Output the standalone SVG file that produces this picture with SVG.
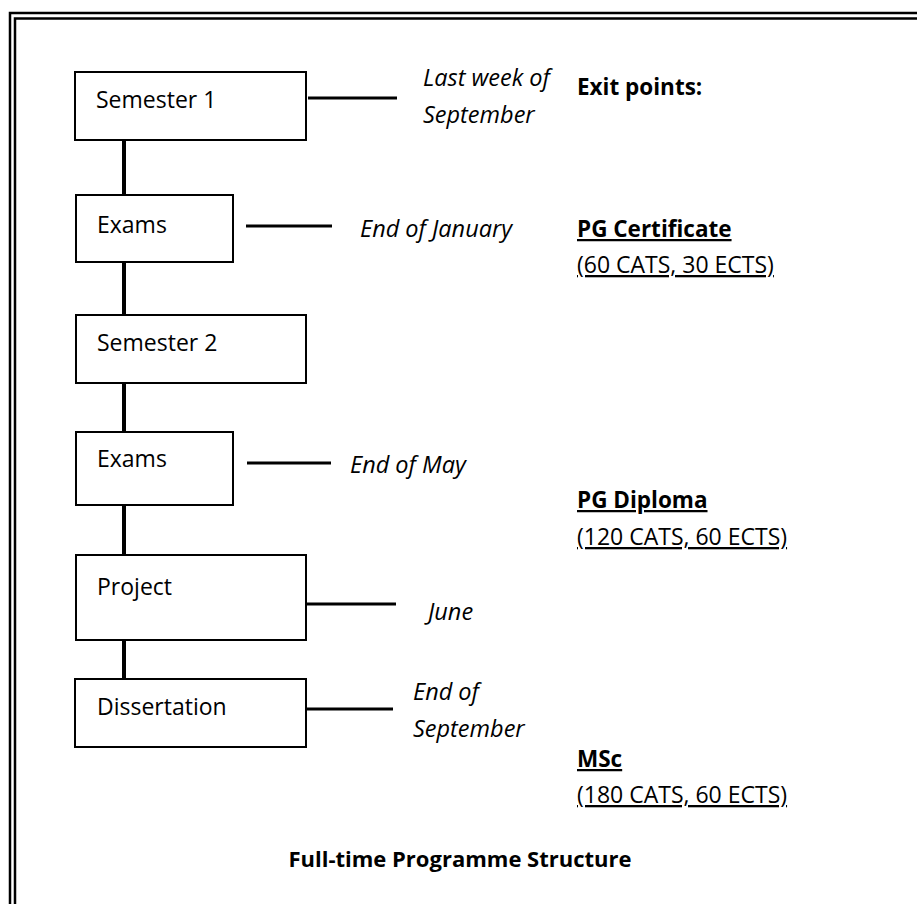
<svg xmlns="http://www.w3.org/2000/svg" width="917" height="904" viewBox="0 0 917 904">
<style>
.box{fill:#fff;stroke:#000;stroke-width:2}
.lbl{font-family:"Open Sans","Liberation Sans",sans-serif;font-size:23px;fill:#000}
.it{font-family:"Open Sans","Liberation Sans",sans-serif;font-size:23.5px;font-style:italic;fill:#000}
.bd{font-family:"Open Sans","Liberation Sans",sans-serif;font-size:22.5px;font-weight:bold;fill:#000}
.ttl{font-family:"Open Sans","Liberation Sans",sans-serif;font-size:22px;font-weight:bold;fill:#000}
.ul{text-decoration:underline}
.vc{stroke:#000;stroke-width:4;fill:none}
.hc{stroke:#000;stroke-width:3;fill:none}
.frame{stroke:#000;fill:none}
</style>
<rect x="0" y="0" width="917" height="904" fill="#fff"/>
<g id="frame">
<path class="frame" d="M10,904 V13 H917" stroke-width="2.5"/>
<path class="frame" d="M15,904 V18.5 H917" stroke-width="2.5"/>
</g>
<g id="connectors">
<line class="vc" x1="124" y1="140" x2="124" y2="195"/>
<line class="vc" x1="124" y1="262" x2="124" y2="315"/>
<line class="vc" x1="124" y1="383" x2="124" y2="432"/>
<line class="vc" x1="124" y1="505" x2="124" y2="555"/>
<line class="vc" x1="124" y1="640" x2="124" y2="679"/>
<line class="hc" x1="308" y1="98" x2="397" y2="98"/>
<line class="hc" x1="246" y1="226" x2="332" y2="226"/>
<line class="hc" x1="247" y1="463" x2="331" y2="463"/>
<line class="hc" x1="307" y1="604" x2="396" y2="604"/>
<line class="hc" x1="306" y1="709" x2="393" y2="709"/>
</g>
<g id="semester1">
<rect class="box" x="75" y="72" width="231" height="68"/>
<text class="lbl" x="96" y="108">Semester 1</text>
</g>
<g id="exams1">
<rect class="box" x="76" y="195" width="157" height="67"/>
<text class="lbl" x="97" y="233">Exams</text>
</g>
<g id="semester2">
<rect class="box" x="76" y="315" width="230" height="68"/>
<text class="lbl" x="97" y="351">Semester 2</text>
</g>
<g id="exams2">
<rect class="box" x="76" y="432" width="157" height="73"/>
<text class="lbl" x="97" y="467">Exams</text>
</g>
<g id="project">
<rect class="box" x="76" y="555" width="230" height="85"/>
<text class="lbl" x="97" y="595">Project</text>
</g>
<g id="dissertation">
<rect class="box" x="75" y="679" width="231" height="68"/>
<text class="lbl" x="97" y="715">Dissertation</text>
</g>
<g id="dates">
<text class="it" x="423" y="86">Last week of</text>
<text class="it" x="423" y="123">September</text>
<text class="it" x="360" y="237">End of January</text>
<text class="it" x="350" y="473">End of May</text>
<text class="it" x="428" y="620">June</text>
<text class="it" x="413" y="700">End of</text>
<text class="it" x="413" y="737">September</text>
</g>
<g id="exits">
<text class="bd" x="577" y="95">Exit points:</text>
<text class="bd ul" x="577" y="237">PG Certificate</text>
<text class="lbl ul" x="577" y="273">(60 CATS, 30 ECTS)</text>
<text class="bd ul" x="577" y="508">PG Diploma</text>
<text class="lbl ul" x="577" y="545">(120 CATS, 60 ECTS)</text>
<text class="bd ul" x="577" y="767">MSc</text>
<text class="lbl ul" x="577" y="803">(180 CATS, 60 ECTS)</text>
</g>
<g id="title">
<text class="ttl" x="460" y="867" text-anchor="middle">Full-time Programme Structure</text>
</g>
</svg>
